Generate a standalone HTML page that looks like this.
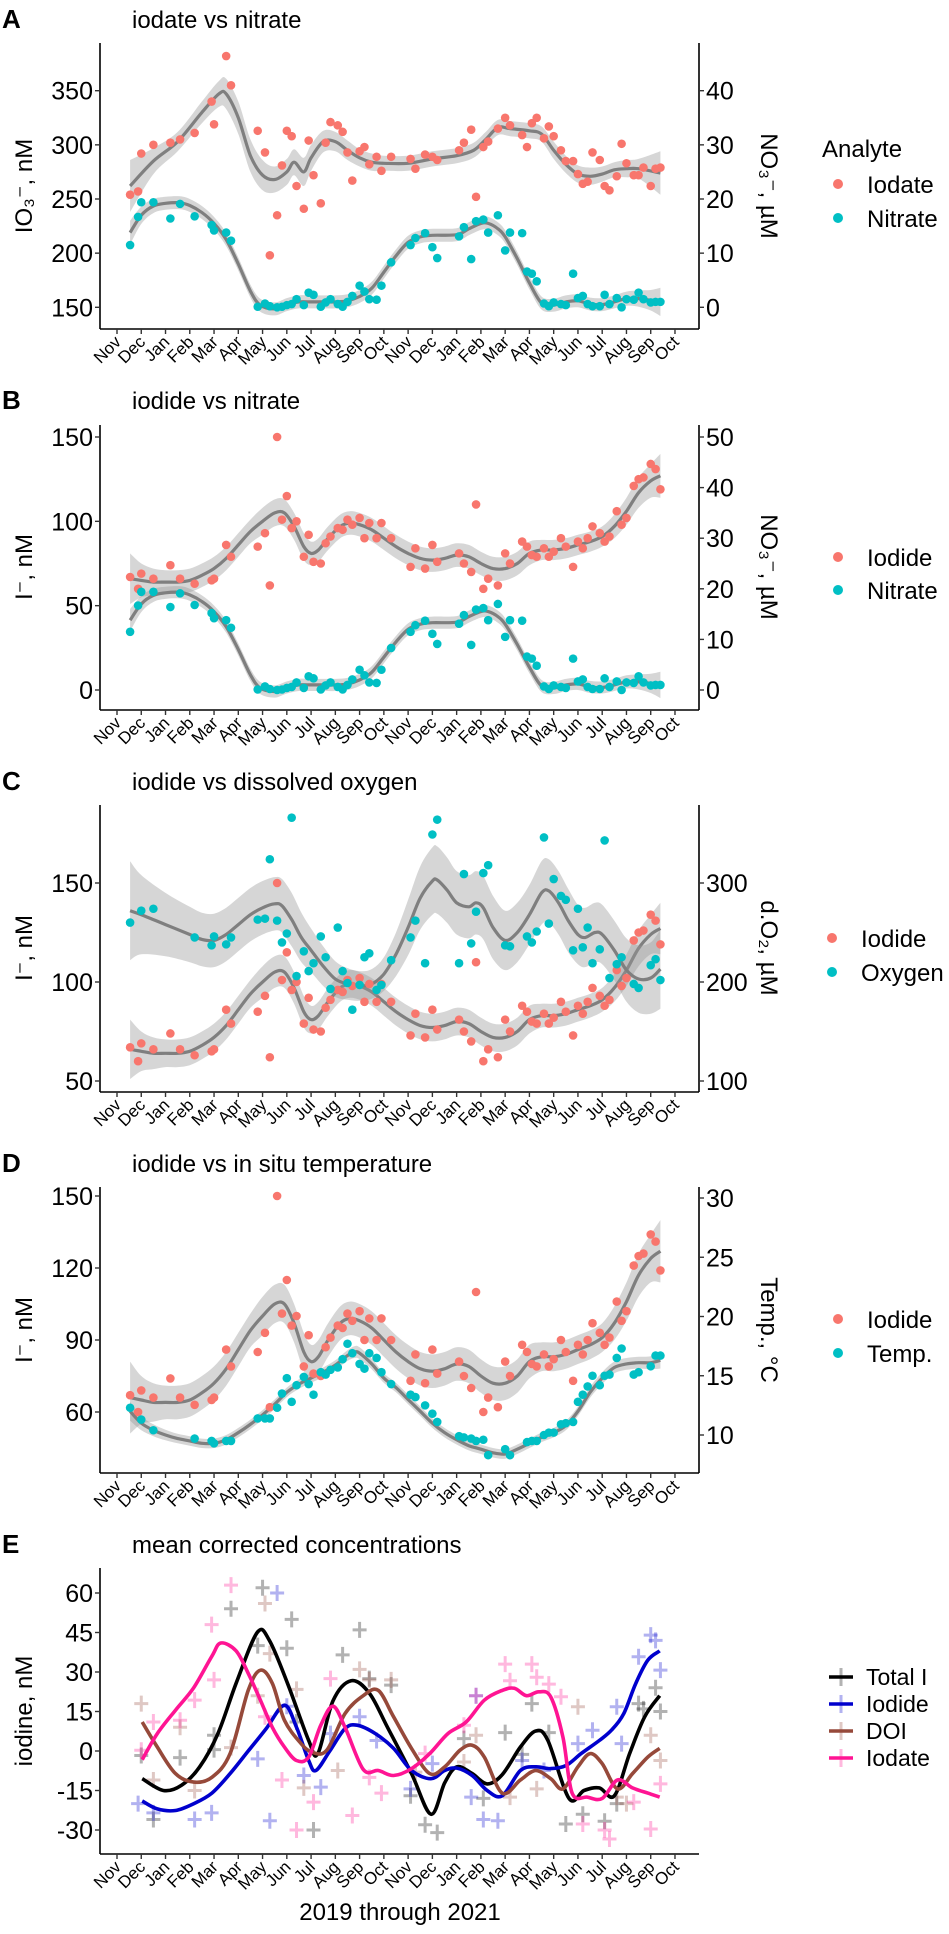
<!DOCTYPE html>
<html><head><meta charset="utf-8"><title>Iodine speciation time series</title>
<style>
html,body{margin:0;padding:0;background:#fff;}
svg{display:block;font-family:"Liberation Sans",Arial,sans-serif;}
</style></head>
<body>
<svg id="chart" width="949" height="1934" viewBox="0 0 949 1934" xmlns="http://www.w3.org/2000/svg">
<rect width="949" height="1934" fill="#fff"/>
<g id="layer"></g>
</svg>
<script>
// ---------- data ----------
const monthLabels = ["Nov","Dec","Jan","Feb","Mar","Apr","May","Jun","Jul","Aug","Sep","Oct","Nov","Dec","Jan","Feb","Mar","Apr","May","Jun","Jul","Aug","Sep","Oct"];
const sampleDates = [0.54,0.87,1.0,1.5,2.2,2.6,3.2,3.9,4.0,4.5,4.7,5.8,6.1,6.3,6.6,6.8,7.0,7.2,7.4,7.7,7.9,8.1,8.4,8.6,8.8,9.1,9.3,9.5,9.7,10.0,10.2,10.4,10.7,10.9,11.3,12.1,12.3,12.7,13.0,13.2,14.1,14.3,14.6,14.8,15.1,15.3,15.7,16.0,16.2,16.7,16.9,17.1,17.3,17.6,17.8,18.0,18.3,18.5,18.8,19.0,19.2,19.4,19.6,19.9,20.1,20.3,20.6,20.8,21.0,21.3,21.5,21.7,22.0,22.2,22.4];
const iodateValues = [254,257,292,300,302,305,311,340,319,382,355,313,293,198,235,281,313,308,262,241,304,272,246,302,321,318,312,293,267,294,298,282,289,276,289,287,278,291,289,286,295,302,314,252,298,303,315,325,318,309,298,320,325,306,317,308,295,285,285,273,264,266,293,286,262,258,271,301,283,272,272,279,262,278,279];
const nitrateValues = [11.5,16.7,19.4,19.4,16.4,19.1,16.8,15.2,14.2,13.8,12.3,0.1,0.7,0.2,0,0.1,0.4,0.6,1.5,0.4,2.7,2.3,0.1,0.9,1.5,0.6,0.1,1,2.1,4,2.9,1.5,1.4,4,8.3,11.5,12.8,13.7,11.1,9.1,13.1,14.8,8.9,15.9,16.2,13.8,17,10.5,13.8,13.7,6.6,6.2,4.8,0.7,0.2,0.9,0.6,0.4,6.2,1.7,2.1,0.6,0.2,0.2,2.3,0.6,1.7,0,1.5,1.4,2.7,1.5,0.9,1.0,1.0];
const iodideValues = [67,60,69,66,74,66,63,65,66,86,79,85,93,62,150,101,115,96,100,79,92,76,75,87,91,96,95,101,98,102,90,99,90,99,90,73,84,72,86,76,81,75,70,110,60,66,62,81,75,88,85,80,79,84,79,82,90,85,73,88,84,90,97,93,88,91,106,98,102,121,125,126,134,131,119];
const sensorDates = [0.54,1.0,1.5,3.2,3.9,4.0,4.5,4.7,5.8,6.1,6.3,6.6,6.8,7.0,7.2,7.4,7.7,7.9,8.1,8.4,8.6,8.8,9.1,9.3,9.5,9.7,10.0,10.2,10.4,10.7,10.9,11.3,12.1,12.3,12.7,13.0,13.2,14.1,14.3,14.6,14.8,15.1,15.3,16.0,16.2,16.9,17.1,17.3,17.6,17.8,18.0,18.3,18.5,18.8,19.0,19.2,19.4,19.6,19.9,20.1,20.3,20.6,20.8,21.3,21.5,22.0,22.2,22.4];
const oxygenValues = [260,272,274,245,237,246,238,245,263,264,324,262,240,249,366,206,231,211,219,246,225,193,255,211,199,172,197,225,229,192,197,222,245,262,219,349,364,219,309,239,271,310,318,237,236,246,240,251,346,259,304,287,283,232,274,235,255,219,233,343,204,218,225,198,194,217,223,202];
const tempValues = [12.3,11.3,10.4,9.7,9.5,9.3,9.5,9.5,11.4,11.4,11.4,12.3,13.5,14.8,12.8,14.2,14.9,14.3,13.4,15.3,15.1,15.5,15.7,16.4,17.7,16.9,16.0,15.6,16.9,16.5,15.3,14.3,13.4,13.2,12.5,11.8,11.1,9.9,9.8,9.7,9.5,9.6,8.3,8.8,8.3,9.4,9.5,9.5,10.0,10.2,10.2,10.9,11.0,11.1,12.8,13.4,14.1,15.0,14.2,15.0,15.1,16.5,17.3,15.1,15.3,15.8,16.7,16.7];

// smoothed fits
const iodateFitT = [0.54,1.5,2.5,3.5,4.2,4.5,5,5.5,6,6.5,7,7.3,7.7,8,8.5,9,9.5,10,10.5,11,12,13,14,14.7,15.2,15.7,16.2,17,17.5,18,18.5,19,19.5,20,20.5,21,21.5,22.4];
const iodateFitV = [262,285,303,330,347,347,325,290,272,268,275,284,275,288,303,303,295,288,284,283,283,287,290,295,305,316,315,313,310,295,282,273,271,273,277,278,278,274];
const iodateFitSE = [24,12,9,10,12,14,15,15,14,12,12,12,13,12,10,9,9,8,8,7,7,7,7,7,7,7,7,7,7,8,8,8,8,7,7,8,9,20];
const nitrateFitT = [0.54,1,1.5,2,2.6,3,3.5,4,4.5,5,5.5,5.9,6.5,7,7.5,8,8.5,9,9.5,10,10.5,11,11.5,12,12.5,13,14,14.5,15,15.3,15.7,16,16.5,17,17.5,18,18.5,19,19.5,20,20.5,21,21.5,22,22.4];
const nitrateFitV = [13.8,17.0,18.7,19.2,19.3,18.8,17.5,15.5,12.5,8,3,0.4,-0.3,0.5,1.0,1.0,1.0,1.0,1.2,2.0,3.5,6.5,9.5,12,13,13.3,13.4,14.5,15.5,15.5,14.5,13,9,4.5,0.8,0.4,1.0,1.2,0.6,0.5,1.0,1.6,1.6,1.3,1.0];
const nitrateFitSE = [2.2,1.6,1.3,1.2,1.2,1.2,1.2,1.2,1.2,1.2,1.2,1.2,1.2,1.2,1.2,1.2,1.2,1.2,1.2,1.2,1.2,1.2,1.2,1.2,1.2,1.2,1.2,1.2,1.2,1.2,1.2,1.2,1.2,1.2,1.2,1.2,1.2,1.2,1.2,1.2,1.2,1.3,1.5,1.9,2.6];
const iodideFitT = [0.54,1,1.5,2,2.5,3,3.5,4,4.5,5,5.5,6,6.5,6.9,7.3,7.7,8,8.3,8.7,9.2,9.6,10,10.5,11,11.5,12,12.5,13,13.5,14,14.5,15,15.5,16,16.5,17,17.5,18,18.5,19,19.5,20,20.5,21,21.5,22,22.4];
const iodideFitV = [66,65,64,64,64,65,68,72,78,86,94,100,105,105,97,85,81,83,90,97,99,98,95,90,85,81,78,77,78,80,79,75,72,72,75,81,83,83,84,86,88,91,97,106,117,124,127];
const iodideFitSE = [15,10,8,7,7,7,7,7,7,7,7,8,8,8,8,8,7,7,7,7,7,7,7,7,7,7,7,7,7,7,7,7,7,7,7,7,6,6,6,6,6,6,7,8,9,10,13];
const oxygenFitT = [0.54,1,2,3,3.5,4,4.5,5,5.5,6,6.5,6.8,7.2,7.6,8,8.5,9,9.5,10,10.5,11,11.5,12,12.5,13,13.2,13.6,14,14.5,14.8,15.1,15.5,16,16.5,17,17.5,17.8,18.2,18.6,19,19.3,19.7,20,20.5,21,21.5,22,22.4];
const oxygenFitV = [272,268,258,248,243,242,248,258,268,275,279,277,263,245,232,216,203,198,196,198,208,228,255,285,302,303,293,280,276,280,275,255,242,250,268,290,292,280,262,248,245,250,248,232,212,203,204,213];
const oxygenFitSE = [50,40,32,28,27,27,27,27,27,27,27,27,27,25,22,20,18,16,15,15,17,22,28,32,34,34,33,32,32,32,32,32,30,30,30,32,32,32,32,30,30,30,30,30,32,34,36,40];
const tempFitT = [0.54,1,1.5,2,2.5,3,3.5,4,4.5,5,5.5,6,6.5,7,7.5,8,8.5,9,9.5,9.8,10,10.5,11,11.5,12,12.5,13,13.5,14,14.5,15,15.5,16,16.5,17,17.5,18,18.5,19,19.5,20,20.5,21,21.5,22,22.4];
const tempFitV = [12.0,11.0,10.4,10.0,9.7,9.5,9.3,9.3,9.6,10.2,10.9,11.7,12.6,13.6,14.3,14.8,15.3,15.9,16.7,17.0,16.9,16.0,14.8,14.0,13.0,12.0,11.0,10.2,9.6,9.1,8.8,8.5,8.4,8.8,9.3,9.8,10.2,10.8,12.0,13.6,14.8,15.7,16.0,16.1,16.1,16.3];
const tempFitSE = [0.8,0.6,0.5,0.45,0.4,0.4,0.4,0.4,0.4,0.4,0.4,0.4,0.4,0.4,0.4,0.4,0.4,0.4,0.45,0.5,0.5,0.45,0.4,0.4,0.4,0.4,0.4,0.4,0.4,0.4,0.4,0.4,0.4,0.4,0.4,0.4,0.4,0.4,0.4,0.45,0.5,0.5,0.5,0.5,0.55,0.7];

// panel E: smoothed lines
const totalLineT = [1.04,1.91,2.66,3.41,4.16,4.91,5.78,6.28,7.03,7.9,8.28,8.9,9.65,10.4,11.15,12.14,12.94,13.51,14.01,14.64,15.26,15.88,16.63,17.26,17.76,18.63,19.25,19.88,20.5,21.13,21.75,22.37];
const totalLineV = [-10.5,-15,-13,-6,6.6,25.7,45,42,25.7,4,-1,19,26.7,22,9,-8.6,-24,-12,-6,-8.6,-12.5,-9,1.5,7.6,4,-18,-15,-14,-17,-1,13,21];
const iodideLineT = [1.04,1.66,2.41,3.16,3.91,4.66,5.41,6.15,6.90,7.40,7.90,8.20,8.77,9.40,9.90,10.65,11.40,12.14,12.94,13.51,14.01,14.64,15.26,15.88,16.63,17.26,17.88,18.51,19.13,19.88,20.38,20.88,21.38,21.88,22.37];
const iodideLineV = [-19,-22,-22.6,-20,-16,-8.6,0,8.5,17.4,9,-3.6,-7.4,0,8.5,9.8,6.6,1,-7.4,-10.5,-7.4,-6.5,-9.3,-15,-17,-7.4,-6,-6.7,-5.5,-1,4,7.9,14,25.6,34.5,38];
const doiLineT = [1.04,1.66,2.41,3.16,3.91,4.66,5.41,5.91,6.40,6.90,7.53,8.03,8.65,9.40,10.15,10.77,11.40,12.14,12.89,13.51,14.14,14.64,15.14,15.88,16.63,17.26,17.88,18.38,19.00,19.50,20.00,20.63,21.25,21.88,22.37];
const doiLineV = [11,1.5,-8.6,-11.8,-10,-1,23,30.7,25.7,11.7,3.4,-0.4,0.3,14.2,21,23,13,1,-8.6,-6,0.3,2.2,-2.3,-16,-11,-7.4,-10.5,-14.4,-6,-1,-4.8,-14.4,-8.6,-2.3,1];
const iodateLineT = [1.04,1.66,2.41,3.16,3.91,4.28,4.91,5.41,5.91,6.40,6.90,7.40,7.90,8.40,8.90,9.40,10.15,10.77,11.40,12.14,12.89,13.64,14.39,15.14,15.88,16.38,16.88,17.39,17.88,18.38,18.76,19.38,20.00,20.63,21.25,21.88,22.37];
const iodateLineV = [-3.3,6.6,15.5,24,36,41,38,29.5,19.3,9,1.5,-3.6,-2.3,9.8,17,9,-7,-7.4,-9.3,-6.7,-1,6.6,11,19.3,23,23.8,21,22.5,20.5,5.3,-16,-17.5,-18,-11,-14,-16,-17.5];
// panel E: observations (crosses)
const totalObsT = [1.0,1.5,2.6,4.0,4.0,4.7,6.0,5.8,7.2,7.0,7.4,8.1,9.3,10.0,10.4,11.3,12.1,12.7,13.2,14.3,15.1,16.0,16.7,17.1,17.8,18.5,19.2,20.1,20.6,21.7,22.2,22.4,21.5];
const totalObsV = [-1.7,-26,-2.5,6,0.5,54,62,40,50,39,11,-30,36.5,46,27.5,25,-17,-28,-31,4.7,-18,7,-1.3,18,7,-27.7,-24,-26.7,-20,16,24,15,18];
const iodideObsT = [0.87,1.5,3.2,3.9,5.8,6.3,6.6,7.0,7.7,8.4,8.8,10.0,10.7,12.1,13.0,14.6,14.8,15.1,15.7,16.7,17.6,19.0,19.6,20.6,21.5,22.0,22.2,22.4,20.8];
const iodideObsV = [-20,-23.5,-26,-23.5,-3,-26.5,60,17,-9.3,-13.7,6.6,13,4,-14.4,-4.8,-17.5,21,-26,-26.5,-3.6,-7.4,2.8,7.9,16.8,35.8,44,42,30.7,2.8];
const iodateObsT = [1.0,1.5,2.6,3.2,3.9,4.0,4.7,6.1,6.8,7.4,8.1,8.8,9.7,10.4,10.9,12.7,14.3,14.8,16.0,16.2,17.1,17.3,17.8,18.3,19.2,20.1,20.3,21.3,22.0,22.4];
const iodateObsV = [0.3,11,11.7,19.3,48,27,63,13,-11,-30,-19.4,27.5,-24.5,-10,-16,-1,9.8,21,33,26.7,33,28,25.4,20.6,-27.7,-30,-33.4,-19.4,-29.6,-12.5];
const doiObsT = [1.0,1.5,2.6,3.2,4.7,5.8,6.1,6.3,7.4,7.7,9.1,10.0,10.4,11.3,12.3,14.3,14.8,16.2,17.3,19.0,20.6,21.0,22.0,22.4];
const doiObsV = [18,-11,9,-15,1.3,21,56,37,23.4,-14,-7.4,31,27,27,-8,-4.2,6,-17.5,-14.4,16.8,-17.5,-20,6,-3.6];

const tickA_L = [150,200,250,300,350], tickA_R = [0,10,20,30,40];
const tickB_L = [0,50,100,150], tickB_R = [0,10,20,30,40,50];
const tickC_L = [50,100,150], tickC_R = [100,200,300];
const tickD_L = [60,90,120,150], tickD_R = [10,15,20,25,30];
const tickE_L = [-30,-15,0,15,30,45,60];

// ---------- helpers ----------
const NS = "http://www.w3.org/2000/svg";
const layer = document.getElementById("layer");
const X0 = 117, XS = 24.26, AXL = 100, AXR = 699;
function X(t){ return X0 + XS * t; }
function lin(d0,p0,d1,p1){ return v => p0 + (v - d0) * (p1 - p0) / (d1 - d0); }
function mk(tag, attrs, parent){
  const e = document.createElementNS(NS, tag);
  for (const k in attrs) e.setAttribute(k, attrs[k]);
  (parent || layer).appendChild(e);
  return e;
}
function crPath(pts, start){
  let d = (start || "M") + pts[0][0].toFixed(1) + "," + pts[0][1].toFixed(1);
  for (let i = 0; i < pts.length - 1; i++){
    const p0 = pts[i-1] || pts[i], p1 = pts[i], p2 = pts[i+1], p3 = pts[i+2] || pts[i+1];
    const c1 = [p1[0] + (p2[0]-p0[0])/6, p1[1] + (p2[1]-p0[1])/6];
    const c2 = [p2[0] - (p3[0]-p1[0])/6, p2[1] - (p3[1]-p1[1])/6];
    d += " C" + c1[0].toFixed(1) + "," + c1[1].toFixed(1) + " " + c2[0].toFixed(1) + "," + c2[1].toFixed(1) + " " + p2[0].toFixed(1) + "," + p2[1].toFixed(1);
  }
  return d;
}
function txt(x, y, s, attrs){
  const e = mk("text", Object.assign({x:x, y:y, fill:"#000"}, attrs || {}));
  e.textContent = s;
  return e;
}

const panels = {
  A:{top:43, bot:329, yl:lin(150,307.3,350,90.7), yr:lin(0,307.3,40,90.7), tl:tickA_L, tr:tickA_R},
  B:{top:425, bot:710, yl:lin(0,690,150,437), yr:lin(0,690,50,437), tl:tickB_L, tr:tickB_R},
  C:{top:805, bot:1092, yl:lin(50,1081,150,883), yr:lin(100,1081,300,883), tl:tickC_L, tr:tickC_R},
  D:{top:1187, bot:1473, yl:lin(60,1412,150,1196), yr:lin(10,1435,30,1198), tl:tickD_L, tr:tickD_R},
  E:{top:1568, bot:1854, yl:lin(0,1751,60,1593), yr:null, tl:tickE_L, tr:null}
};

function drawAxes(key){
  const p = panels[key];
  const l = mk("line", {x1:AXL, y1:p.top, x2:AXL, y2:p.bot, stroke:"#000", "stroke-width":1.6});
  
  
  const b = mk("line", {x1:AXL, y1:p.bot, x2:AXR, y2:p.bot, stroke:"#000", "stroke-width":1.6});
  
  
  if (p.yr){
    const r = mk("line", {x1:AXR, y1:p.top, x2:AXR, y2:p.bot, stroke:"#000", "stroke-width":1.6});
    
    
  }
  p.tl.forEach(v => {
    const y = p.yl(v);
    const tk = mk("line", {x1:AXL-5, y1:y, x2:AXL, y2:y, stroke:"#333", "stroke-width":1.4});
    
    
    const t = txt(AXL-7, y+9, String(v), {"text-anchor":"end", "font-size":25, fill:"#000"});
    
    
  });
  if (p.yr){
    p.tr.forEach(v => {
      const y = p.yr(v);
      const tk = mk("line", {x1:AXR, y1:y, x2:AXR+5, y2:y, stroke:"#333", "stroke-width":1.4});
      
      
      const t = txt(AXR+7, y+9, String(v), {"font-size":25, fill:"#000"});
      
      
    });
  }
  monthLabels.forEach((m, i) => {
    const x = X(i);
    const tk = mk("line", {x1:x, y1:p.bot, x2:x, y2:p.bot+5, stroke:"#333", "stroke-width":1.4});
    
    
    const t = txt(x+5, p.bot+14, m, {"text-anchor":"end", "font-size":17, transform:"rotate(-45 " + (x+5) + " " + (p.bot+14) + ")"});
    
    
  });
}

function drawFit(key, side, ft, fv, fse, name){
  const p = panels[key];
  const sc = side === "r" ? p.yr : p.yl;
  const up = ft.map((t,i) => [X(t), sc(fv[i] + fse[i])]);
  const lo = ft.map((t,i) => [X(t), sc(fv[i] - fse[i])]).reverse();
  const band = mk("path", {d: crPath(up) + " " + crPath(lo, "L") + " Z", fill:"#999999", "fill-opacity":0.4, stroke:"none"});
  
  
  const line = mk("path", {d: crPath(ft.map((t,i) => [X(t), sc(fv[i])])), fill:"none", stroke:"#7f7f7f", "stroke-width":3.2});
  
  
}
function drawPoints(key, side, ts, vs, color, name){
  const p = panels[key];
  const sc = side === "r" ? p.yr : p.yl;
  ts.forEach((t,i) => {
    const c = mk("circle", {cx:X(t), cy:sc(vs[i]), r:4.3, fill:color});
    
    
  });
}
function legendDot(x, y, color, label, name){
  const c = mk("circle", {cx:x, cy:y, r:5, fill:color});
  
  
  const t = txt(x+29, y+9, label, {"font-size":24});
  
  
}
function heading(letter, title, yb){
  const a = txt(2, yb, letter, {"font-size":26, "font-weight":"bold"});
  
  
  const t = txt(132, yb, title, {"font-size":24});
  
  
}
function axisTitle(x, yc, s, rot, name){
  const t = txt(x, yc, s, {"font-size":24, "text-anchor":"middle", transform:"rotate(" + rot + " " + x + " " + yc + ")"});
  
  
}

const RED = "#F8766D", CYAN = "#00BFC4";

// ---------- Panel A ----------
heading("A", "iodate vs nitrate", 28);
drawAxes("A");
drawFit("A", "l", iodateFitT, iodateFitV, iodateFitSE, "iodate");
drawFit("A", "r", nitrateFitT, nitrateFitV, nitrateFitSE, "nitrate");
drawPoints("A", "l", sampleDates, iodateValues, RED, "iodate");
drawPoints("A", "r", sampleDates, nitrateValues, CYAN, "nitrate");
axisTitle(32, 186, "IO\u2083\u207B, nM", -90, "y-axis-title-left-A");
axisTitle(761, 186, "NO\u2083\u207B, \u00B5M", 90, "y-axis-title-right-A");
const la = txt(822, 157, "Analyte", {"font-size":24});


legendDot(838, 184, RED, "Iodate", "iodate");
legendDot(838, 218, CYAN, "Nitrate", "nitrate");

// ---------- Panel B ----------
heading("B", "iodide vs nitrate", 409);
drawAxes("B");
drawFit("B", "l", iodideFitT, iodideFitV, iodideFitSE, "iodide");
drawFit("B", "r", nitrateFitT, nitrateFitV, nitrateFitSE, "nitrate");
drawPoints("B", "l", sampleDates, iodideValues, RED, "iodide");
drawPoints("B", "r", sampleDates, nitrateValues, CYAN, "nitrate");
axisTitle(32, 567, "I\u207B, nM", -90, "y-axis-title-left-B");
axisTitle(761, 567, "NO\u2083\u207B, \u00B5M", 90, "y-axis-title-right-B");
legendDot(838, 557, RED, "Iodide", "iodide");
legendDot(838, 590, CYAN, "Nitrate", "nitrate");

// ---------- Panel C ----------
heading("C", "iodide vs dissolved oxygen", 790);
drawAxes("C");
drawFit("C", "l", iodideFitT, iodideFitV, iodideFitSE, "iodide");
drawFit("C", "r", oxygenFitT, oxygenFitV, oxygenFitSE, "oxygen");
drawPoints("C", "l", sampleDates, iodideValues, RED, "iodide");
drawPoints("C", "r", sensorDates, oxygenValues, CYAN, "oxygen");
axisTitle(32, 948, "I\u207B, nM", -90, "y-axis-title-left-C");
axisTitle(761, 948, "d.O\u2082, \u00B5M", 90, "y-axis-title-right-C");
legendDot(832, 938, RED, "Iodide", "iodide");
legendDot(832, 972, CYAN, "Oxygen", "oxygen");

// ---------- Panel D ----------
heading("D", "iodide vs in situ temperature", 1172);
drawAxes("D");
drawFit("D", "l", iodideFitT, iodideFitV, iodideFitSE, "iodide");
drawFit("D", "r", tempFitT, tempFitV, tempFitSE, "temperature");
drawPoints("D", "l", sampleDates, iodideValues, RED, "iodide");
drawPoints("D", "r", sensorDates, tempValues, CYAN, "temperature");
axisTitle(32, 1330, "I\u207B, nM", -90, "y-axis-title-left-D");
axisTitle(761, 1330, "Temp., \u00B0C", 90, "y-axis-title-right-D");
legendDot(838, 1319, RED, "Iodide", "iodide");
legendDot(838, 1353, CYAN, "Temp.", "temperature");

// ---------- Panel E ----------
heading("E", "mean corrected concentrations", 1553);
drawAxes("E");
const seriesE = [
  {name:"total-iodine", color:"#000000", lt:totalLineT, lv:totalLineV, ot:totalObsT, ov:totalObsV, label:"Total I"},
  {name:"iodide", color:"#0000CD", lt:iodideLineT, lv:iodideLineV, ot:iodideObsT, ov:iodideObsV, label:"Iodide"},
  {name:"doi", color:"#96493A", lt:doiLineT, lv:doiLineV, ot:doiObsT, ov:doiObsV, label:"DOI"},
  {name:"iodate", color:"#FF1493", lt:iodateLineT, lv:iodateLineV, ot:iodateObsT, ov:iodateObsV, label:"Iodate"}
];
const pE = panels.E;
seriesE.forEach(s => {
  s.ot.forEach((t,i) => {
    const x = X(t), y = pE.yl(s.ov[i]);
    const c = mk("path", {d:"M" + (x-7) + "," + y + " H" + (x+7) + " M" + x + "," + (y-8) + " V" + (y+8), stroke:s.color, "stroke-width":3, "stroke-opacity":0.3, fill:"none"});
    
    
  });
});
seriesE.forEach(s => {
  const ln = mk("path", {d:crPath(s.lt.map((t,i) => [X(t), pE.yl(s.lv[i])])), stroke:s.color, "stroke-width":3.6, fill:"none", "stroke-linejoin":"round"});
  
  
});
seriesE.forEach((s, i) => {
  const y = 1677 + i * 27;
  const k = mk("path", {d:"M829," + y + " H853 M841," + (y-9) + " V" + (y+9), stroke:s.color, "stroke-width":3, "stroke-opacity":0.3, fill:"none"});
  
  
  const kl = mk("line", {x1:829, y1:y, x2:853, y2:y, stroke:s.color, "stroke-width":3.6});
  
  
  const t = txt(866, y+8, s.label, {"font-size":23});
  
  
});
axisTitle(32, 1711, "iodine, nM", -90, "y-axis-title-E");
const xt = txt(400, 1920, "2019 through 2021", {"font-size":24, "text-anchor":"middle"});


</script>
</body></html>
